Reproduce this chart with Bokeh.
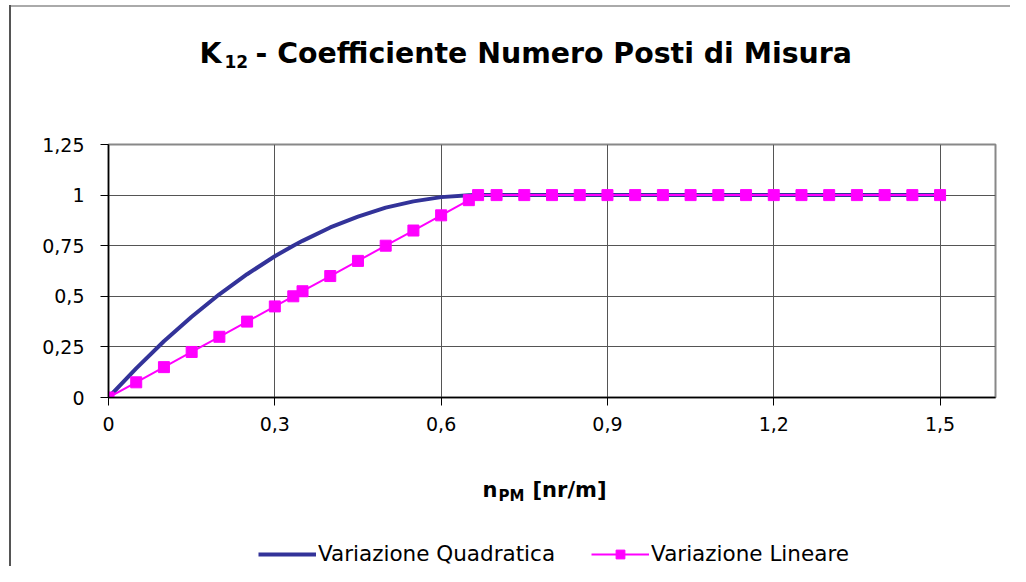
from bokeh.plotting import figure
from bokeh.models import Label, Legend, LegendItem, FixedTicker, Range1d, Spacer
from bokeh.layouts import column, row
from bokeh.embed import file_html
from bokeh.resources import INLINE

# ---- data ----
n_pm = [0, 0.05, 0.1, 0.15, 0.2, 0.25, 0.3, 0.3333, 0.35, 0.4, 0.45, 0.5,
        0.55, 0.6, 0.65, 0.6667, 0.7, 0.75, 0.8, 0.85, 0.9, 0.95, 1.0,
        1.05, 1.1, 1.15, 1.2, 1.25, 1.3, 1.35, 1.4, 1.45, 1.5]
var_quadratica = [0, 0.144, 0.278, 0.399, 0.51, 0.609, 0.698, 0.75, 0.774,
                  0.84, 0.894, 0.938, 0.969, 0.99, 0.999, 1.0, 1.0, 1.0, 1.0,
                  1.0, 1.0, 1.0, 1.0, 1.0, 1.0, 1.0, 1.0, 1.0, 1.0, 1.0, 1.0,
                  1.0, 1.0]
var_lineare = [0, 0.075, 0.15, 0.225, 0.3, 0.375, 0.45, 0.5, 0.525, 0.6,
               0.675, 0.75, 0.825, 0.9, 0.975, 1.0, 1.0, 1.0, 1.0, 1.0, 1.0,
               1.0, 1.0, 1.0, 1.0, 1.0, 1.0, 1.0, 1.0, 1.0, 1.0, 1.0, 1.0]
x_ticks = [0, 0.3, 0.6, 0.9, 1.2, 1.5]
x_tick_labels = ["0", "0,3", "0,6", "0,9", "1,2", "1,5"]
y_ticks = [0, 0.25, 0.5, 0.75, 1.0, 1.25]
y_tick_labels = ["0", "0,25", "0,5", "0,75", "1", "1,25"]
series_names = ["Variazione Quadratica", "Variazione Lineare"]
title_parts = ["K", "12", "- Coefficiente Numero Posti di Misura"]
xlabel_parts = ["n", "PM", "[nr/m]"]

X_MAX = 1.6
Y_MAX = 1.25

FONT = "DejaVu Sans"
NAVY = "#333399"
MAGENTA = "#FF00FF"

# ---- layout geometry (pixels) ----
LEFT_GAP, LEFT_LINE = 9, 2
OX = LEFT_GAP + LEFT_LINE          # x where the figures start
W = 1010 - OX
TOP_GAP, TOP_LINE = 5, 2
FR_L, FR_R, FR_T, FR_B = 108, 995, 144, 397   # plot frame, page pixels
H_TOP = 130 - TOP_GAP - TOP_LINE
H_MAIN, H_BOT = 312, 124
Y_TOP = TOP_GAP + TOP_LINE
Y_MAIN = Y_TOP + H_TOP
Y_BOT = Y_MAIN + H_MAIN
B_LEFT = FR_L - OX
B_RIGHT = W - (FR_R - OX)


def text_fig(h):
    f = figure(width=W, height=h, output_backend="svg", toolbar_location=None,
               x_range=Range1d(FR_L, FR_R), y_range=Range1d(h, 0),
               x_axis_type=None, y_axis_type=None,
               min_border_left=B_LEFT, min_border_right=B_RIGHT,
               min_border_top=0, min_border_bottom=0)
    f.outline_line_color = None
    f.background_fill_color = "white"
    f.border_fill_color = "white"
    return f


def add_label(f, text, px, py, y0, size, bold=True):
    f.add_layout(Label(x=px, y=py - y0, text=text, text_font=FONT,
                       text_font_size=size, text_color="black",
                       text_font_style="bold" if bold else "normal",
                       text_baseline="alphabetic", text_align="left"))


# ---- top: title ----
p_top = text_fig(H_TOP)
add_label(p_top, title_parts[0], 199, 52.5, Y_TOP, "28.4px")
add_label(p_top, title_parts[1], 224, 61, Y_TOP, "17px")
add_label(p_top, title_parts[2], 255, 52.5, Y_TOP, "28.4px")

# ---- main chart ----
p = figure(width=W, height=H_MAIN, output_backend="svg", toolbar_location=None,
           x_range=Range1d(0, X_MAX), y_range=Range1d(0, Y_MAX),
           min_border_left=B_LEFT, min_border_right=B_RIGHT,
           min_border_top=FR_T - Y_MAIN, min_border_bottom=Y_BOT - FR_B)
p.background_fill_color = "white"
p.border_fill_color = "white"
p.outline_line_color = "#888888"
p.outline_line_width = 2

for ax, ticks, labels in ((p.xaxis[0], x_ticks, x_tick_labels),
                          (p.yaxis[0], y_ticks, y_tick_labels)):
    ax.ticker = FixedTicker(ticks=ticks)
    ax.major_label_overrides = {t: l for t, l in zip(ticks, labels)}
    ax.minor_tick_line_color = None
    ax.major_tick_in = 0
    ax.major_tick_out = 8
    ax.major_tick_line_color = "black"
    ax.axis_line_color = "black"
    ax.axis_line_width = 1.5
    ax.major_label_text_font = FONT
    ax.major_label_text_font_size = "19px"
    ax.major_label_text_color = "black"
p.xaxis[0].major_label_standoff = 11
p.yaxis[0].major_label_standoff = 16

for g, ticks in ((p.xgrid[0], x_ticks), (p.ygrid[0], y_ticks)):
    g.grid_line_color = "#555555"
    g.grid_line_width = 1
    g.ticker = FixedTicker(ticks=ticks)

p.line(n_pm, var_quadratica, line_color=NAVY, line_width=4)
p.line(n_pm, var_lineare, line_color=MAGENTA, line_width=2)
p.scatter(n_pm, var_lineare, marker="square", size=11,
          fill_color=MAGENTA, line_color=MAGENTA)

# ---- bottom: axis title + legend ----
p_bot = text_fig(H_BOT)
add_label(p_bot, xlabel_parts[0], 482, 489, Y_BOT, "21px")
add_label(p_bot, xlabel_parts[1], 498, 495, Y_BOT, "15px")
add_label(p_bot, xlabel_parts[2], 532, 489, Y_BOT, "21px")

# legend entries reuse the series (they fall outside this panel's ranges)
lg_q = p_bot.line(n_pm, var_quadratica, line_color=NAVY, line_width=4)
lg_l = p_bot.line(n_pm, var_lineare, line_color=MAGENTA, line_width=2)
lg_m = p_bot.scatter(n_pm, var_lineare, marker="square", size=11,
                     fill_color=MAGENTA, line_color=MAGENTA)
legend = Legend(items=[LegendItem(label=series_names[0], renderers=[lg_q]),
                       LegendItem(label=series_names[1], renderers=[lg_l, lg_m])],
                orientation="horizontal", location=(258 - FR_L, 0),
                glyph_width=58, glyph_height=22, label_standoff=2, spacing=36,
                padding=0, margin=0, label_text_font=FONT,
                label_text_font_size="21.5px", label_text_color="black",
                border_line_alpha=0, background_fill_alpha=0)
p_bot.add_layout(legend, "center")

top_line = Spacer(width=W, height=TOP_LINE, styles={"background-color": "#aaaaaa"})
left_line = Spacer(width=LEFT_LINE, height=Y_BOT + H_BOT - TOP_GAP,
                   styles={"background-color": "#555555"})
layout = row(Spacer(width=LEFT_GAP, height=10),
             column(Spacer(width=LEFT_LINE, height=TOP_GAP), left_line),
             column(Spacer(width=W, height=TOP_GAP), top_line, p_top, p, p_bot))

open("out.html", "w").write(file_html(layout, INLINE))
